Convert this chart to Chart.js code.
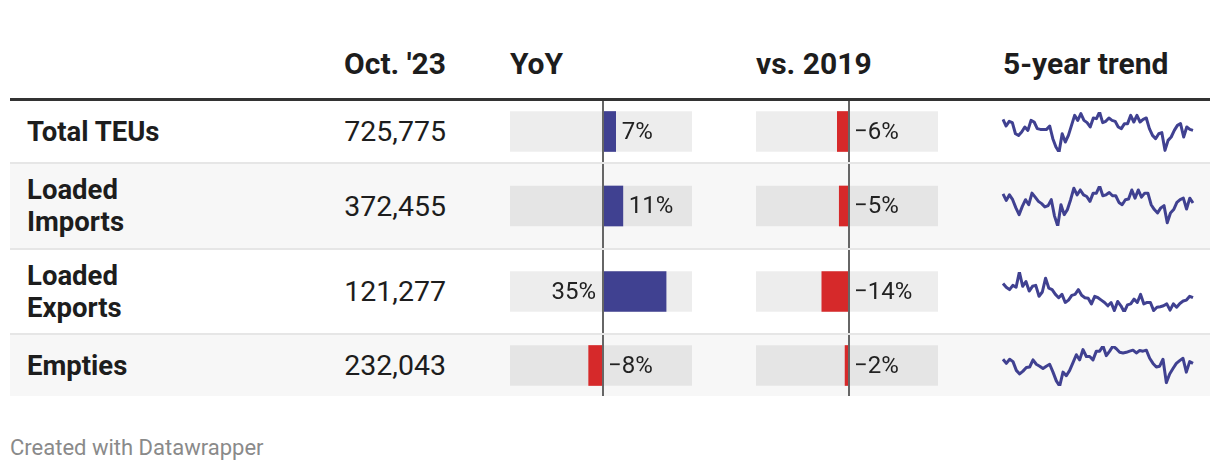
<!DOCTYPE html>
<html>
<head>
<meta charset="utf-8">
<script src="https://cdn.jsdelivr.net/npm/chart.js@4"></script>
<style>
  body { margin: 0; background: #fff; font-family: Roboto, sans-serif; color: #1d1d1d; }
  #wrap { position: relative; width: 1220px; height: 472px; overflow: hidden; }
  .head { position: absolute; top: 48px; height: 32px; line-height: 32px; font-size: 30px; font-weight: 700; }
  .headline { position: absolute; left: 10px; width: 1200px; top: 98px; height: 3px; background: #333; }
  .row { position: absolute; left: 10px; width: 1200px; }
  .row.alt { background: #f7f7f7; }
  .sep { position: absolute; left: 10px; width: 1200px; height: 2px; background: #e6e6e6; }
  .name { position: absolute; left: 17px; top: 0; bottom: 0; width: 150px; display: flex; align-items: center; font-size: 27.5px; font-weight: 700; line-height: 32px; }
  .num { position: absolute; left: 250px; width: 186px; top: 0; bottom: 0; display: flex; align-items: center; justify-content: flex-end; font-size: 28.5px; }
  canvas { position: absolute; }
  .foot { position: absolute; left: 10px; top: 435px; line-height: 26px; font-size: 22px; color: #8a8a8a; }
</style>
</head>
<body>
<div id="wrap">
  <div class="head" style="right:774px;">Oct. '23</div>
  <div class="head" style="left:510px;">YoY</div>
  <div class="head" style="left:756px;">vs. 2019</div>
  <div class="head" style="left:1003px;">5-year trend</div>
  <div class="headline"></div>
  <div class="foot">Created with Datawrapper</div>
</div>
<script>
// table rows
const rowNames = ['Total TEUs', 'Loaded Imports', 'Loaded Exports', 'Empties'];
const octValues = [725775, 372455, 121277, 232043];
const yoyChange = [7, 11, 35, -8];
const vs2019Change = [-6, -5, -14, -2];

// 5-year monthly trend, thousand TEUs
const trendTotal = [860, 779, 836, 820, 685, 665, 706, 767, 726, 848, 828, 747, 738, 738, 738, 779, 624, 523, 462, 685, 584, 665, 787, 909, 848, 930, 848, 820, 767, 877, 869, 950, 820, 836, 877, 848, 836, 767, 747, 808, 808, 909, 828, 909, 828, 860, 877, 747, 665, 624, 685, 698, 482, 604, 645, 726, 787, 808, 645, 767, 738, 726];
const trendImports = [432, 389, 426, 394, 340, 296, 350, 394, 361, 437, 411, 383, 368, 346, 355, 394, 286, 221, 361, 296, 329, 394, 469, 426, 458, 426, 415, 383, 437, 437, 484, 420, 426, 441, 420, 420, 376, 361, 394, 398, 458, 404, 458, 411, 437, 437, 361, 329, 307, 340, 355, 242, 307, 329, 376, 394, 404, 333, 404, 372];
const trendExports = [151, 143, 138, 147, 143, 175, 145, 155, 135, 145, 147, 124, 133, 162, 141, 138, 128, 121, 128, 111, 116, 126, 128, 138, 126, 121, 120, 108, 124, 121, 116, 111, 104, 111, 94, 113, 104, 91, 106, 108, 118, 111, 128, 108, 111, 111, 94, 101, 102, 104, 108, 95, 108, 101, 109, 114, 116, 124, 121];
const trendEmpties = [253, 232, 253, 241, 197, 179, 193, 211, 214, 250, 228, 218, 206, 218, 228, 188, 144, 118, 188, 170, 197, 236, 276, 250, 302, 267, 267, 250, 294, 294, 320, 271, 294, 320, 306, 288, 285, 288, 294, 299, 285, 297, 294, 299, 258, 232, 214, 218, 253, 135, 179, 206, 232, 246, 258, 188, 241, 232];
const trends = [trendTotal, trendImports, trendExports, trendEmpties];

const rowTops = [101, 164, 250, 335];
const rowHeights = [61, 84, 83, 61];

const BLUE = '#404191', RED = '#d6292a';
const fmtPct = v => (v < 0 ? '\u2212' + Math.abs(v) : v) + '%';

const wrap = document.getElementById('wrap');

/*=============== ZERO LINE + LABEL ===============*/
const barExtras = {
  id: 'barExtras',
  afterDatasetsDraw(chart) {
    const ctx = chart.ctx;
    const x0 = chart.scales.x.getPixelForValue(0);
    const v = chart.data.datasets[0].data[0];
    const bar = chart.getDatasetMeta(0).data[0];

    ctx.save();
    ctx.font = '24px Roboto';
    ctx.fillStyle = '#222';
    ctx.textBaseline = 'middle';
    let tx = x0 + 5, align = 'left';
    if (v > 0) {
      const w = ctx.measureText(fmtPct(v)).width;
      if (bar.x + 6 + w > chart.chartArea.right - 4) { tx = x0 - 7; align = 'right'; }
      else tx = bar.x + 6;
    }
    ctx.textAlign = align;
    ctx.fillText(fmtPct(v), tx, bar.y + 1);

    ctx.strokeStyle = '#666';
    ctx.lineWidth = 2;
    ctx.beginPath();
    ctx.moveTo(Math.round(x0), 0);
    ctx.lineTo(Math.round(x0), chart.height);
    ctx.stroke();
    ctx.restore();
  }
};

function barCell(left, top, height, value, min, max) {
  const cv = document.createElement('canvas');
  cv.width = 182; cv.height = height;
  cv.style.left = left + 'px'; cv.style.top = top + 'px';
  wrap.appendChild(cv);
  new Chart(cv.getContext('2d'), {
    type: 'bar',
    data: {
      labels: ['v'],
      datasets: [
        { data: [value], backgroundColor: value < 0 ? RED : BLUE, barThickness: 40, grouped: false, order: 1 },
        { data: [[min, max]], backgroundColor: 'rgba(0,0,0,0.07)', barThickness: 40, grouped: false, order: 2 }
      ]
    },
    options: {
      indexAxis: 'y',
      responsive: false,
      animation: false,
      events: [],
      layout: { padding: 0 },
      plugins: { legend: { display: false }, tooltip: { enabled: false } },
      scales: {
        x: { display: false, min: min, max: max },
        y: { display: false }
      }
    },
    plugins: [barExtras]
  });
}

function trendCell(top, data) {
  const cv = document.createElement('canvas');
  cv.width = 194; cv.height = 44;
  cv.style.left = '1001px'; cv.style.top = top + 'px';
  wrap.appendChild(cv);
  new Chart(cv.getContext('2d'), {
    type: 'line',
    data: {
      labels: data.map((_, i) => i),
      datasets: [{ data: data, borderColor: BLUE, borderWidth: 3, pointRadius: 0, tension: 0, borderJoinStyle: 'round' }]
    },
    options: {
      responsive: false,
      animation: false,
      events: [],
      layout: { padding: 2 },
      plugins: { legend: { display: false }, tooltip: { enabled: false } },
      scales: {
        x: { display: false },
        y: { display: false, min: Math.min(...data), max: Math.max(...data) }
      }
    }
  });
}

rowNames.forEach((name, i) => {
  const top = rowTops[i], h = rowHeights[i];
  const row = document.createElement('div');
  row.className = 'row' + (i % 2 ? ' alt' : '');
  row.style.top = top + 'px';
  row.style.height = h + 'px';
  row.innerHTML = '<div class="name">' + name + '</div><div class="num">' + octValues[i].toLocaleString('en-US') + '</div>';
  wrap.appendChild(row);
  if (i < rowNames.length - 1) {
    const sep = document.createElement('div');
    sep.className = 'sep';
    sep.style.top = (top + h) + 'px';
    wrap.appendChild(sep);
  }
  barCell(510, top, h, yoyChange[i], -51.7, 49.4);
  barCell(756, top, h, vs2019Change[i], -48, 46);
  trendCell(top + h / 2 - 22, trends[i]);
});
</script>
</body>
</html>
